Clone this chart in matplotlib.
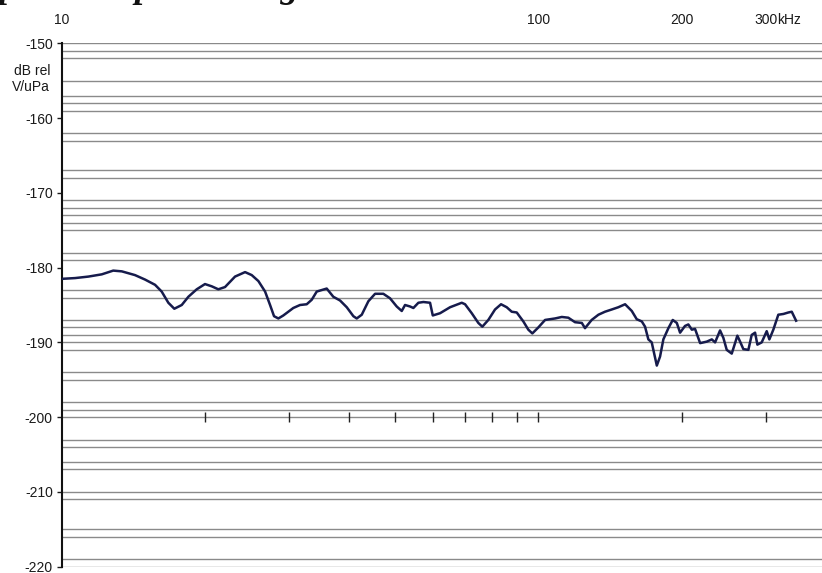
import numpy as np
import matplotlib
matplotlib.use("Agg")
import matplotlib.pyplot as plt

plt.rcParams['font.family'] = ['Liberation Sans', 'DejaVu Sans']

freq_khz = [10.0, 10.65, 11.36, 12.12, 12.81, 13.35, 14.23, 14.94, 15.68, 16.19,
            16.72, 17.21, 17.84, 18.42, 19.18, 19.96, 20.62, 21.29, 21.99, 23.08,
            24.23, 25.02, 25.84, 26.69, 27.34, 27.87, 28.46, 29.15, 30.59, 31.60,
            32.64, 33.44, 34.26, 35.95, 37.12, 38.35, 39.61, 40.90, 41.57, 42.59,
            43.97, 45.42, 47.27, 48.82, 50.43, 51.67, 52.50, 53.79, 54.66, 56.00,
            57.37, 59.25, 60.03, 62.18, 65.26, 69.06, 70.17, 72.48, 74.82, 76.28,
            78.52, 81.11, 83.50, 85.83, 87.93, 90.08, 93.01, 95.28, 97.14, 100.0,
            103.3, 108.4, 112.0, 115.6, 119.4, 123.4, 125.3, 129.4, 133.7, 138.0,
            142.6, 147.2, 152.1, 157.1, 160.9, 164.9, 167.5, 170.2, 173.0, 175.2,
            177.3, 180.1, 183.0, 187.5, 191.5, 195.3, 198.4, 203.2, 206.5, 210.0,
            213.3, 218.6, 225.7, 231.3, 235.0, 240.7, 244.6, 248.6, 254.7, 258.8,
            261.7, 265.2, 269.4, 276.0, 280.5, 285.1, 288.3, 294.4, 301.6, 305.5,
            311.4, 319.0, 326.9, 334.9, 340.4, 347.6]
sens_db = [-181.5, -181.4, -181.2, -180.9, -180.4, -180.5, -181.0, -181.6, -182.3, -183.2,
           -184.7, -185.5, -185.0, -183.9, -182.9, -182.2, -182.5, -182.9, -182.6, -181.2,
           -180.6, -181.0, -181.8, -183.2, -185.0, -186.5, -186.8, -186.4, -185.4, -185.0,
           -184.9, -184.3, -183.2, -182.8, -183.9, -184.4, -185.3, -186.5, -186.8, -186.3,
           -184.5, -183.5, -183.5, -184.1, -185.2, -185.8, -185.0, -185.2, -185.4, -184.7,
           -184.6, -184.7, -186.4, -186.1, -185.3, -184.7, -184.9, -186.1, -187.4, -187.9,
           -187.0, -185.6, -184.9, -185.3, -185.9, -186.0, -187.2, -188.3, -188.8, -188.0,
           -187.0, -186.8, -186.6, -186.7, -187.3, -187.4, -188.1, -187.0, -186.3, -185.9,
           -185.6, -185.3, -184.9, -185.8, -186.9, -187.2, -187.9, -189.6, -190.0, -191.6,
           -193.1, -191.9, -189.6, -188.1, -187.0, -187.4, -188.7, -187.8, -187.6, -188.3,
           -188.2, -190.1, -189.9, -189.6, -190.0, -188.4, -189.4, -191.0, -191.5, -190.1,
           -189.1, -189.9, -190.9, -191.0, -189.0, -188.7, -190.3, -190.0, -188.5, -189.6,
           -188.3, -186.3, -186.2, -186.0, -185.9, -187.1]

# Linhas horizontais da folha
hlines_db = [-150, -151, -152, -155, -157, -158, -159, -162, -163, -167, -168,
             -171, -172, -173, -174, -175, -178, -179, -183, -184, -187, -188,
             -189, -190, -191, -194, -195, -198, -199, -200, -203, -204, -206,
             -207, -210, -211, -215, -216, -219, -220]
yticks = [-150, -160, -170, -180, -190, -200, -210, -220]
top_ticks = [10, 100, 200, 300]
top_labels = ['10', '100', '200', '300']
minor_freqs = [20, 30, 40, 50, 60, 70, 80, 90, 100, 200, 300]

W, H = 822, 573
fig = plt.figure(figsize=(W / 100, H / 100), dpi=100)
ax = fig.add_axes([62 / W, 1 - 566.7 / H, 1 - 62 / W, (566.7 - 43.3) / H])

for y in hlines_db:
    ax.axhline(y, color='#8a8a8a', lw=1.0, zorder=1)

ax.plot(minor_freqs, [-200] * len(minor_freqs), ls='none', marker='|',
        ms=6.5, mew=1.0, color='#222222', zorder=2)

ax.plot(freq_khz, sens_db, color='#161b4c', lw=1.8, zorder=3)

ax.set_xscale('log')
ax.set_xlim(10, 394)
ax.set_ylim(-220, -150)

for s in ['top', 'right', 'bottom']:
    ax.spines[s].set_visible(False)
ax.spines['left'].set_linewidth(1.5)
ax.spines['left'].set_color('#111111')

ax.set_yticks(yticks)
ax.set_yticklabels([str(v) for v in yticks])
ax.tick_params(axis='y', direction='out', length=3.6, width=1.0,
               labelsize=10, pad=3, colors='#1a1a1a')

ax.xaxis.tick_top()
ax.set_xticks(top_ticks)
ax.set_xticklabels(top_labels)
ax.xaxis.set_minor_locator(matplotlib.ticker.NullLocator())
ax.tick_params(axis='x', length=0, labelsize=10, pad=11.5, colors='#1a1a1a')
ax.annotate('kHz', xy=(300, 1), xycoords=('data', 'axes fraction'),
            xytext=(8.6, 11.5), textcoords='offset points',
            ha='left', va='bottom', fontsize=10, color='#1a1a1a')

fig.text(50 / W, 1 - 71 / H, 'dB rel', ha='right', va='center', fontsize=10, color='#1a1a1a')
fig.text(50 / W, 1 - 87 / H, 'V/uPa', ha='right', va='center', fontsize=10, color='#1a1a1a')

# título cortado no topo da digitalização
fig.text(-37 / W, 1 + 3 / H, 'Typical Response Magnitude', fontsize=26,
         family='Liberation Serif', weight='bold', style='italic',
         va='baseline', ha='left', color='#111111')

fig.savefig('out.png', dpi=100)
